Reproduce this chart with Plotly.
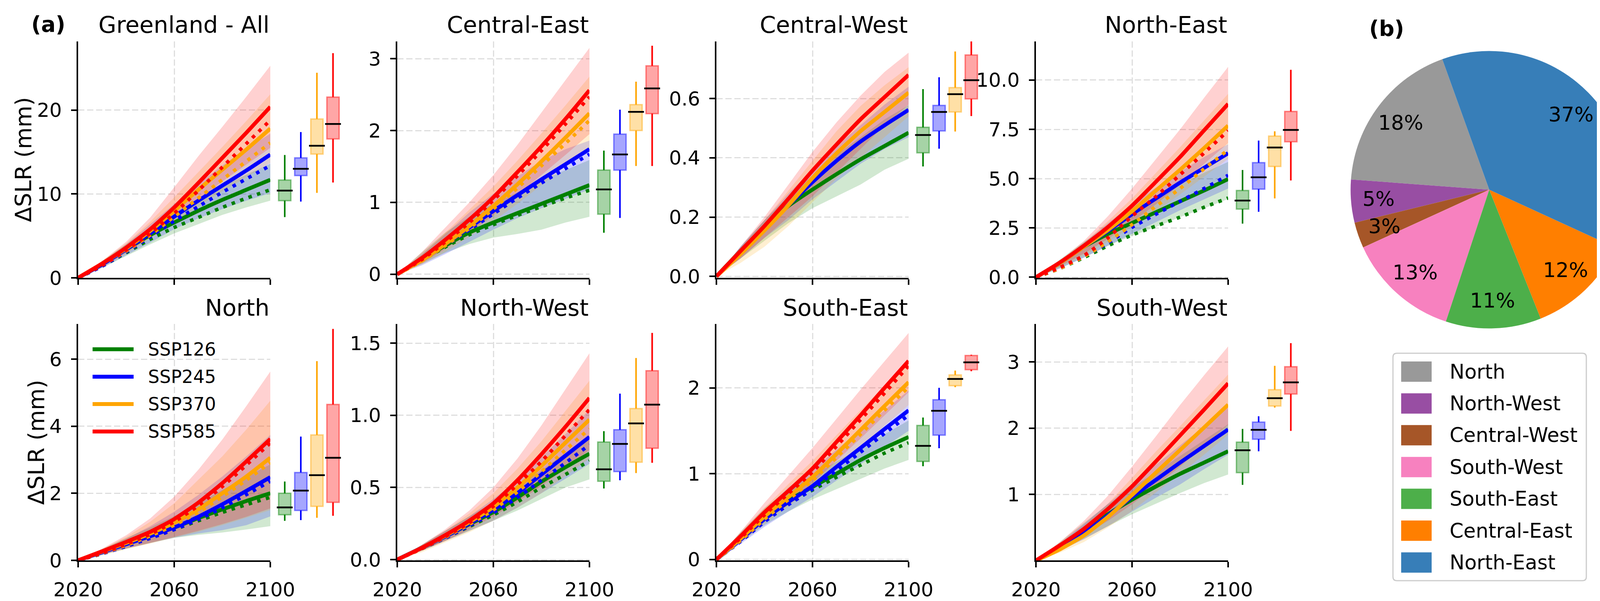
import math
import plotly.graph_objects as go

FIG_W, FIG_H = 4205, 1538
PAGE_OFFSET = 8  # the browser body margin shifts the figure by this many pixels
FONT = "DejaVu Sans"

# ---------------- data ----------------
years = [2020, 2030, 2040, 2050, 2060, 2070, 2080, 2090, 2100]
ssp_labels = ["SSP126", "SSP245", "SSP370", "SSP585"]
ssp_rgb = [(0, 128, 0), (0, 0, 255), (255, 165, 0), (255, 0, 0)]
panel_titles = ["Greenland - All", "Central-East", "Central-West", "North-East",
                "North", "North-West", "South-East", "South-West"]
box_positions = [2106.0, 2112.7, 2119.4, 2126.1]

# order inside each list: SSP126, SSP245, SSP370, SSP585
gl_solid = [[0, 1.6, 3.4, 5.1, 6.6, 8.0, 9.3, 10.5, 11.7],
            [0, 1.6, 3.4, 5.3, 7.3, 9.2, 11.0, 12.8, 14.7],
            [0, 1.7, 3.5, 5.6, 8.0, 10.5, 12.9, 15.3, 17.8],
            [0, 1.7, 3.6, 5.8, 8.4, 11.3, 14.3, 17.3, 20.4]]
gl_dotted = [[0, 1.4, 3.0, 4.6, 6.0, 7.2, 8.4, 9.5, 10.5],
             [0, 1.4, 3.1, 4.9, 6.8, 8.5, 10.2, 11.8, 13.4],
             [0, 1.5, 3.2, 5.1, 7.3, 9.5, 11.7, 13.9, 16.1],
             [0, 1.5, 3.3, 5.3, 7.7, 10.4, 13.2, 16.0, 18.8]]
gl_lo = [[0, 1.2, 2.6, 4.0, 5.3, 6.4, 7.5, 8.4, 9.2],
         [0, 1.2, 2.7, 4.2, 5.8, 7.1, 8.2, 9.2, 10.1],
         [0, 1.3, 2.9, 4.7, 6.6, 8.5, 10.3, 12.0, 13.7],
         [0, 1.3, 3.0, 4.9, 7.0, 9.3, 11.5, 13.5, 15.5]]
gl_hi = [[0, 2.0, 4.0, 6.0, 7.8, 9.4, 10.9, 12.3, 13.6],
         [0, 1.9, 4.0, 6.4, 8.8, 11.2, 13.4, 15.4, 17.2],
         [0, 2.0, 4.1, 6.7, 9.6, 12.6, 15.6, 18.7, 21.9],
         [0, 2.0, 4.3, 7.2, 10.8, 14.5, 18.0, 21.6, 25.3]]
# box stats: lower whisker, q1, median, q3, upper whisker
gl_box = [[7.25, 9.21, 10.41, 11.66, 14.65],
          [9.1, 12.2, 13.0, 14.31, 17.39],
          [10.14, 14.76, 15.76, 18.95, 24.46],
          [11.37, 16.57, 18.35, 21.56, 26.8]]

ce_solid = [[0, 0.2, 0.4, 0.58, 0.72, 0.85, 0.98, 1.11, 1.24],
            [0, 0.2, 0.42, 0.65, 0.88, 1.1, 1.32, 1.53, 1.74],
            [0, 0.19, 0.42, 0.67, 0.95, 1.25, 1.57, 1.9, 2.24],
            [0, 0.22, 0.48, 0.76, 1.07, 1.42, 1.78, 2.16, 2.56]]
ce_dotted = [[0, 0.19, 0.38, 0.55, 0.69, 0.82, 0.94, 1.06, 1.17],
             [0, 0.19, 0.4, 0.62, 0.84, 1.06, 1.27, 1.47, 1.67],
             [0, 0.18, 0.4, 0.64, 0.91, 1.2, 1.51, 1.82, 2.14],
             [0, 0.2, 0.45, 0.72, 1.03, 1.37, 1.72, 2.09, 2.47]]
ce_lo = [[0, 0.14, 0.3, 0.42, 0.51, 0.56, 0.62, 0.72, 0.8],
         [0, 0.12, 0.28, 0.45, 0.62, 0.78, 0.92, 1.05, 1.18],
         [0, 0.13, 0.31, 0.52, 0.74, 0.98, 1.24, 1.5, 1.76],
         [0, 0.15, 0.35, 0.58, 0.82, 1.1, 1.38, 1.66, 1.95]]
ce_hi = [[0, 0.3, 0.58, 0.8, 0.98, 1.14, 1.3, 1.45, 1.59],
         [0, 0.27, 0.56, 0.86, 1.12, 1.36, 1.58, 1.74, 1.86],
         [0, 0.27, 0.58, 0.9, 1.22, 1.58, 1.96, 2.35, 2.75],
         [0, 0.3, 0.65, 1.0, 1.38, 1.8, 2.25, 2.7, 3.15]]
ce_box = [[0.578, 0.836, 1.18, 1.45, 1.72],
          [0.784, 1.45, 1.667, 1.95, 2.29],
          [1.507, 2.0, 2.26, 2.36, 2.68],
          [1.507, 2.235, 2.586, 2.9, 3.18]]

cw_solid = [[0, 0.085, 0.165, 0.238, 0.293, 0.345, 0.395, 0.44, 0.485],
            [0, 0.08, 0.16, 0.24, 0.318, 0.39, 0.455, 0.51, 0.562],
            [0, 0.075, 0.155, 0.24, 0.332, 0.415, 0.49, 0.555, 0.62],
            [0, 0.085, 0.17, 0.262, 0.357, 0.445, 0.53, 0.605, 0.68]]
cw_dotted = None
cw_lo = [[0, 0.06, 0.12, 0.18, 0.23, 0.27, 0.31, 0.36, 0.397],
         [0, 0.06, 0.13, 0.19, 0.26, 0.32, 0.38, 0.43, 0.47],
         [0, 0.045, 0.1, 0.17, 0.25, 0.33, 0.4, 0.47, 0.54],
         [0, 0.06, 0.13, 0.2, 0.27, 0.35, 0.43, 0.51, 0.58]]
cw_hi = [[0, 0.1, 0.19, 0.27, 0.34, 0.41, 0.47, 0.53, 0.578],
         [0, 0.1, 0.19, 0.28, 0.36, 0.44, 0.51, 0.58, 0.64],
         [0, 0.095, 0.19, 0.29, 0.39, 0.49, 0.575, 0.645, 0.706],
         [0, 0.1, 0.2, 0.31, 0.42, 0.52, 0.61, 0.69, 0.755]]
cw_box = [[0.371, 0.417, 0.477, 0.503, 0.632],
          [0.431, 0.491, 0.555, 0.577, 0.672],
          [0.489, 0.555, 0.615, 0.637, 0.759],
          [0.541, 0.599, 0.662, 0.747, 0.80]]

ne_solid = [[0, 0.74, 1.55, 2.2, 2.75, 3.3, 3.85, 4.4, 4.98],
            [0, 0.72, 1.55, 2.35, 3.2, 4.0, 4.8, 5.55, 6.29],
            [0, 0.72, 1.55, 2.4, 3.35, 4.4, 5.45, 6.55, 7.69],
            [0, 0.75, 1.6, 2.55, 3.63, 4.85, 6.1, 7.45, 8.79]]
ne_dotted = [[0, 0.45, 1.0, 1.6, 2.14, 2.6, 3.05, 3.55, 4.02],
             [0, 0.45, 1.05, 1.75, 2.53, 3.2, 3.85, 4.5, 5.17],
             [0, 0.45, 1.05, 1.8, 2.67, 3.6, 4.5, 5.5, 6.46],
             [0, 0.5, 1.1, 2.0, 3.1, 4.1, 5.2, 6.3, 7.43]]
ne_lo = [[0, 0.45, 1.0, 1.6, 2.1, 2.55, 3.05, 3.5, 3.97],
         [0, 0.45, 1.0, 1.6, 2.2, 2.8, 3.4, 3.95, 4.5],
         [0, 0.5, 1.1, 1.8, 2.55, 3.35, 4.2, 5.1, 6.0],
         [0, 0.55, 1.2, 1.95, 2.8, 3.7, 4.7, 5.75, 6.8]]
ne_hi = [[0, 0.9, 1.8, 2.6, 3.3, 4.0, 4.7, 5.3, 5.85],
         [0, 0.82, 1.75, 2.75, 3.7, 4.55, 5.35, 6.1, 6.75],
         [0, 0.82, 1.75, 2.85, 4.0, 5.3, 6.6, 7.95, 9.3],
         [0, 0.85, 1.85, 3.1, 4.5, 6.0, 7.5, 9.1, 10.67]]
ne_box = [[2.72, 3.46, 3.89, 4.40, 5.44],
          [3.32, 4.47, 5.07, 5.81, 6.93],
          [4.0, 5.62, 6.58, 7.16, 7.40],
          [4.91, 6.87, 7.47, 8.41, 10.52]]

n_solid = [[0, 0.25, 0.5, 0.74, 0.98, 1.26, 1.52, 1.77, 2.0],
           [0, 0.24, 0.48, 0.72, 0.98, 1.3, 1.67, 2.07, 2.48],
           [0, 0.26, 0.52, 0.8, 1.12, 1.52, 2.0, 2.5, 3.06],
           [0, 0.27, 0.55, 0.85, 1.23, 1.72, 2.3, 2.95, 3.62]]
n_dotted = [[0, 0.2, 0.44, 0.68, 0.92, 1.18, 1.43, 1.66, 1.88],
            [0, 0.2, 0.42, 0.66, 0.92, 1.22, 1.57, 1.96, 2.36],
            [0, 0.21, 0.45, 0.73, 1.05, 1.43, 1.9, 2.39, 2.92],
            [0, 0.22, 0.48, 0.78, 1.15, 1.63, 2.2, 2.84, 3.5]]
n_lo = [[0, 0.17, 0.35, 0.52, 0.67, 0.76, 0.83, 0.92, 1.02],
        [0, 0.17, 0.35, 0.52, 0.68, 0.8, 0.9, 1.05, 1.31],
        [0, 0.15, 0.33, 0.5, 0.68, 0.85, 1.05, 1.27, 1.5],
        [0, 0.18, 0.36, 0.52, 0.7, 0.88, 1.08, 1.3, 1.55]]
n_hi = [[0, 0.34, 0.66, 0.98, 1.32, 1.7, 2.1, 2.5, 2.86],
        [0, 0.32, 0.65, 1.02, 1.45, 1.95, 2.5, 3.1, 3.74],
        [0, 0.33, 0.7, 1.15, 1.7, 2.4, 3.1, 3.9, 4.76],
        [0, 0.35, 0.75, 1.25, 1.9, 2.7, 3.6, 4.6, 5.63]]
n_box = [[1.18, 1.36, 1.58, 2.0, 2.35],
         [1.2, 1.49, 2.08, 2.62, 3.69],
         [1.27, 1.61, 2.54, 3.74, 5.94],
         [1.33, 1.73, 3.06, 4.65, 6.9]]

nw_solid = [[0, 0.08, 0.16, 0.245, 0.33, 0.43, 0.54, 0.64, 0.734],
            [0, 0.08, 0.16, 0.25, 0.345, 0.46, 0.59, 0.72, 0.85],
            [0, 0.08, 0.165, 0.26, 0.365, 0.5, 0.65, 0.81, 0.97],
            [0, 0.08, 0.17, 0.27, 0.39, 0.55, 0.73, 0.92, 1.12]]
nw_dotted = [[0, 0.075, 0.15, 0.23, 0.31, 0.40, 0.50, 0.59, 0.684],
             [0, 0.075, 0.15, 0.235, 0.325, 0.43, 0.55, 0.67, 0.796],
             [0, 0.075, 0.155, 0.245, 0.345, 0.47, 0.61, 0.76, 0.906],
             [0, 0.075, 0.16, 0.255, 0.37, 0.52, 0.68, 0.86, 1.04]]
nw_lo = [[0, 0.06, 0.13, 0.2, 0.27, 0.34, 0.42, 0.5, 0.556],
         [0, 0.06, 0.13, 0.2, 0.27, 0.36, 0.46, 0.56, 0.664],
         [0, 0.05, 0.12, 0.19, 0.27, 0.36, 0.46, 0.58, 0.7],
         [0, 0.06, 0.13, 0.21, 0.3, 0.4, 0.51, 0.63, 0.76]]
nw_hi = [[0, 0.1, 0.2, 0.3, 0.4, 0.51, 0.62, 0.74, 0.85],
         [0, 0.1, 0.2, 0.3, 0.42, 0.55, 0.71, 0.87, 1.04],
         [0, 0.1, 0.2, 0.32, 0.46, 0.63, 0.82, 1.03, 1.24],
         [0, 0.1, 0.21, 0.34, 0.5, 0.7, 0.93, 1.18, 1.43]]
nw_box = [[0.493, 0.543, 0.626, 0.815, 0.89],
          [0.55, 0.61, 0.802, 0.9, 1.15],
          [0.6, 0.675, 0.944, 1.047, 1.397],
          [0.671, 0.772, 1.074, 1.309, 1.571]]

se_solid = [[0, 0.25, 0.5, 0.69, 0.845, 1.0, 1.16, 1.3, 1.428],
            [0, 0.23, 0.47, 0.67, 0.856, 1.08, 1.3, 1.52, 1.738],
            [0, 0.24, 0.5, 0.73, 0.96, 1.23, 1.51, 1.79, 2.066],
            [0, 0.27, 0.55, 0.8, 1.06, 1.37, 1.68, 2.0, 2.314]]
se_dotted = [[0, 0.23, 0.47, 0.66, 0.81, 0.96, 1.1, 1.24, 1.36],
             [0, 0.21, 0.44, 0.64, 0.82, 1.04, 1.25, 1.47, 1.681],
             [0, 0.22, 0.47, 0.7, 0.92, 1.19, 1.46, 1.74, 2.009],
             [0, 0.25, 0.52, 0.77, 1.02, 1.32, 1.63, 1.94, 2.257]]
se_lo = [[0, 0.2, 0.4, 0.56, 0.7, 0.82, 0.94, 1.06, 1.16],
         [0, 0.18, 0.38, 0.56, 0.73, 0.92, 1.11, 1.31, 1.5],
         [0, 0.2, 0.42, 0.62, 0.83, 1.07, 1.31, 1.56, 1.8],
         [0, 0.22, 0.45, 0.67, 0.89, 1.15, 1.41, 1.68, 1.95]]
se_hi = [[0, 0.32, 0.6, 0.82, 0.98, 1.14, 1.3, 1.46, 1.62],
         [0, 0.3, 0.58, 0.84, 1.05, 1.28, 1.51, 1.74, 1.97],
         [0, 0.3, 0.6, 0.88, 1.15, 1.45, 1.74, 2.03, 2.32],
         [0, 0.32, 0.66, 0.98, 1.3, 1.64, 1.98, 2.31, 2.64]]
se_box = [[1.087, 1.143, 1.324, 1.562, 1.654],
          [1.297, 1.449, 1.733, 1.862, 2.0],
          [2.009, 2.025, 2.104, 2.151, 2.201],
          [2.194, 2.212, 2.298, 2.377, 2.386]]

sw_solid = [[0, 0.22, 0.45, 0.7, 0.92, 1.12, 1.31, 1.48, 1.651],
            [0, 0.2, 0.42, 0.68, 0.96, 1.22, 1.48, 1.73, 1.98],
            [0, 0.17, 0.38, 0.66, 0.99, 1.33, 1.67, 2.01, 2.355],
            [0, 0.23, 0.48, 0.78, 1.12, 1.5, 1.89, 2.28, 2.677]]
sw_dotted = None
sw_lo = [[0, 0.15, 0.33, 0.52, 0.7, 0.86, 1.02, 1.17, 1.3],
         [0, 0.15, 0.32, 0.52, 0.74, 0.95, 1.15, 1.38, 1.6],
         [0, 0.12, 0.28, 0.5, 0.75, 1.03, 1.31, 1.6, 1.9],
         [0, 0.18, 0.38, 0.6, 0.85, 1.13, 1.42, 1.73, 2.05]]
sw_hi = [[0, 0.28, 0.57, 0.85, 1.1, 1.34, 1.58, 1.82, 2.06],
         [0, 0.26, 0.55, 0.86, 1.16, 1.45, 1.74, 2.03, 2.31],
         [0, 0.24, 0.52, 0.86, 1.25, 1.65, 2.03, 2.42, 2.81],
         [0, 0.28, 0.6, 0.98, 1.42, 1.88, 2.35, 2.8, 3.235]]
sw_box = [[1.144, 1.328, 1.666, 1.789, 1.988],
          [1.651, 1.833, 1.974, 2.091, 2.179],
          [2.311, 2.334, 2.452, 2.581, 2.941],
          [1.959, 2.516, 2.692, 2.927, 3.284]]

y_ranges = [[0, 28.2], [-0.05, 3.24], [-0.005, 0.793], [-0.03, 11.96],
            [0, 7.05], [-0.005, 1.633], [-0.01, 2.745], [0.003, 3.574]]
y_tickvals = [[0, 10, 20], [0, 1, 2, 3], [0, 0.2, 0.4, 0.6], [0, 2.5, 5, 7.5, 10],
              [0, 2, 4, 6], [0, 0.5, 1, 1.5], [0, 1, 2], [1, 2, 3]]
y_ticktext = [["0", "10", "20"], ["0", "1", "2", "3"], ["0.0", "0.2", "0.4", "0.6"],
              ["0.0", "2.5", "5.0", "7.5", "10.0"], ["0", "2", "4", "6"],
              ["0.0", "0.5", "1.0", "1.5"], ["0", "1", "2"], ["1", "2", "3"]]
x_tickvals = [2020, 2060, 2100]
y_label = "\u0394SLR (mm)"

pie_labels = ["North", "North-West", "Central-West", "South-West",
              "South-East", "Central-East", "North-East"]
pie_share = [18.3, 5.0, 3.0, 13.1, 11.1, 12.1, 37.3]
pie_colors = ["#999999", "#984ea3", "#a65628", "#f781bf", "#4daf4a", "#ff7f00", "#377eb8"]

panels = [
    (gl_solid, gl_dotted, gl_lo, gl_hi, gl_box),
    (ce_solid, ce_dotted, ce_lo, ce_hi, ce_box),
    (cw_solid, cw_dotted, cw_lo, cw_hi, cw_box),
    (ne_solid, ne_dotted, ne_lo, ne_hi, ne_box),
    (n_solid, n_dotted, n_lo, n_hi, n_box),
    (nw_solid, nw_dotted, nw_lo, nw_hi, nw_box),
    (se_solid, se_dotted, se_lo, se_hi, se_box),
    (sw_solid, sw_dotted, sw_lo, sw_hi, sw_box),
]

# ---------------- layout geometry (pixels of the final picture) ----------------
col_x0 = [200, 1017, 1834, 2652]
line_w = 492
box_w = 197
row_y = [(106, 711), (829, 1434)]
title_mid_y = [63, 787]
ylabel_pos = [(59, 408.5), (93, 1132)]


def fx(p):
    return (p - PAGE_OFFSET) / FIG_W


def fy(p):
    return 1 - (p - PAGE_OFFSET) / FIG_H


def rgba(rgb, a):
    return "rgba(%d,%d,%d,%.3f)" % (rgb[0], rgb[1], rgb[2], a)


fig = go.Figure()
layout = dict(
    template="none",
    width=FIG_W, height=FIG_H, autosize=False,
    margin=dict(l=0, r=0, t=0, b=0, pad=0, autoexpand=False),
    paper_bgcolor="white", plot_bgcolor="white",
    showlegend=False,
    font=dict(family=FONT, color="black", size=50),
)
annotations = []
shapes = []

for i, (solid, dotted, lo, hi, box) in enumerate(panels):
    k = i + 1
    kb = i + 9
    r, c = divmod(i, 4)
    x0 = col_x0[c]
    ytop, ybot = row_y[r]
    xn = "x" if k == 1 else "x%d" % k
    yn = "y" if k == 1 else "y%d" % k
    xbn = "x%d" % kb
    ybn = "y%d" % kb

    # uncertainty bands
    for s in range(4):
        fig.add_trace(go.Scatter(
            x=years + years[::-1], y=hi[s] + lo[s][::-1],
            fill="toself", fillcolor=rgba(ssp_rgb[s], 0.18),
            line=dict(width=0), mode="lines", hoverinfo="skip",
            xaxis=xn, yaxis=yn))
    # projection lines
    for s in range(4):
        fig.add_trace(go.Scatter(
            x=years, y=solid[s], mode="lines", name=ssp_labels[s],
            line=dict(color=rgba(ssp_rgb[s], 1), width=10, shape="spline", smoothing=0.6),
            xaxis=xn, yaxis=yn))
        if dotted is not None:
            fig.add_trace(go.Scatter(
                x=years, y=dotted[s], mode="lines",
                line=dict(color=rgba(ssp_rgb[s], 1), width=9, dash="9px,14px",
                          shape="spline", smoothing=0.6),
                xaxis=xn, yaxis=yn))
    # 2100 box plots
    for s in range(4):
        lf, q1, med, q3, uf = box[s]
        p = box_positions[s]
        fig.add_trace(go.Box(
            x=[p], q1=[q1], median=[med], q3=[q3], lowerfence=[lf], upperfence=[uf],
            width=5.1, orientation="v", boxpoints=False, whiskerwidth=0,
            fillcolor=rgba(ssp_rgb[s], 0.35),
            line=dict(color=rgba(ssp_rgb[s], 0.45), width=3.5),
            xaxis=xbn, yaxis=ybn))
        fig.add_trace(go.Scatter(
            x=[p, p, None, p, p], y=[lf, q1, None, q3, uf], mode="lines",
            line=dict(color=rgba(ssp_rgb[s], 1), width=4),
            xaxis=xbn, yaxis=ybn))
        fig.add_trace(go.Scatter(
            x=[p], y=[med], mode="markers",
            marker=dict(symbol="line-ew", size=29, line=dict(color="black", width=4.5)),
            xaxis=xbn, yaxis=ybn))

    common_axis = dict(showline=True, linecolor="black", linewidth=3.5,
                       ticks="outside", ticklen=14, tickwidth=3.5, tickcolor="black",
                       showgrid=True, gridcolor="#dedede", gridwidth=2.5, griddash="16px,7px",
                       zeroline=False, ticklabelstandoff=14, automargin=False,
                       tickfont=dict(family=FONT, size=50, color="black"))
    layout["xaxis" if k == 1 else "xaxis%d" % k] = dict(
        common_axis, domain=[fx(x0), fx(x0 + line_w)], range=[2020, 2100],
        anchor=yn, tickvals=x_tickvals, ticktext=[str(v) for v in x_tickvals],
        showticklabels=(r == 1))
    layout["yaxis" if k == 1 else "yaxis%d" % k] = dict(
        common_axis, domain=[fy(ybot), fy(ytop)], range=y_ranges[i],
        anchor=xn, tickvals=y_tickvals[i], ticktext=y_ticktext[i])
    layout["xaxis%d" % kb] = dict(domain=[fx(x0 + line_w), fx(x0 + line_w + box_w)],
                                  range=[2100, 2100 + box_w * 80.0 / line_w],
                                  visible=False, anchor=ybn, showgrid=False, zeroline=False,
                                  automargin=False)
    layout["yaxis%d" % kb] = dict(domain=[fy(ybot), fy(ytop)], range=y_ranges[i],
                                  visible=False, anchor=xbn, showgrid=False, zeroline=False,
                                  automargin=False)

    annotations.append(dict(
        text=panel_titles[i], xref="paper", yref="paper",
        x=fx(x0 + line_w), y=fy(title_mid_y[r]), xanchor="right", yanchor="middle",
        showarrow=False, font=dict(family=FONT, size=59, color="black")))

# y-axis labels of the first column
for (lx, ly) in ylabel_pos:
    annotations.append(dict(text=y_label, xref="paper", yref="paper", x=fx(lx), y=fy(ly),
                            xanchor="center", yanchor="middle", textangle=-90, showarrow=False,
                            font=dict(family=FONT, size=57, color="black")))

# panel labels
annotations.append(dict(text="<b>(a)</b>", xref="paper", yref="paper", x=fx(123), y=fy(62),
                        xanchor="center", yanchor="middle", showarrow=False,
                        font=dict(family=FONT, size=55, color="black")))
annotations.append(dict(text="<b>(b)</b>", xref="paper", yref="paper", x=fx(3550), y=fy(73),
                        xanchor="center", yanchor="middle", showarrow=False,
                        font=dict(family=FONT, size=55, color="black")))

# SSP legend (inside North panel)
for s in range(4):
    yc = 893.7 + s * 70.2
    shapes.append(dict(type="line", xref="paper", yref="paper",
                       x0=fx(237), x1=fx(342), y0=fy(yc), y1=fy(yc),
                       line=dict(color=rgba(ssp_rgb[s], 1), width=10)))
    annotations.append(dict(text=ssp_labels[s], xref="paper", yref="paper",
                            x=fx(377), y=fy(yc), xanchor="left", yanchor="middle",
                            showarrow=False, font=dict(family=FONT, size=46, color="black")))

# pie (first slice starts at start_deg and runs counterclockwise)
pie_cx, pie_cy, pie_r = 3812.5, 485.5, 355
start_deg = 109.8
total = sum(pie_share)
first_end = start_deg + 360.0 * pie_share[0] / total
fig.add_trace(go.Pie(
    labels=pie_labels, values=pie_share, sort=False, direction="counterclockwise",
    rotation=-(first_end - 90.0), marker=dict(colors=pie_colors, line=dict(width=0)),
    textinfo="none", hoverinfo="label+percent", showlegend=False,
    domain=dict(x=[fx(pie_cx - pie_r), fx(pie_cx + pie_r)],
                y=[fy(pie_cy + pie_r), fy(pie_cy - pie_r)])))
cum = 0.0
for lab, v in zip(pie_labels, pie_share):
    mid = math.radians(start_deg + 360.0 * (cum + v / 2.0) / total)
    cum += v
    px_ = pie_cx + 0.8 * pie_r * math.cos(mid)
    py_ = pie_cy - 0.8 * pie_r * math.sin(mid)
    annotations.append(dict(text="%d%%" % round(100.0 * v / total), xref="paper", yref="paper",
                            x=fx(px_), y=fy(py_), xanchor="center", yanchor="middle",
                            showarrow=False, font=dict(family=FONT, size=52, color="black")))

# pie legend
lx0, lx1, ly0, ly1, rad = 3566, 4061, 904, 1486, 10
pts = ("M {a},{b} L {c},{b} Q {d},{b} {d},{e} L {d},{f} Q {d},{g} {c},{g} "
       "L {a},{g} Q {h},{g} {h},{f} L {h},{e} Q {h},{b} {a},{b} Z").format(
    a=fx(lx0 + rad), b=fy(ly0), c=fx(lx1 - rad), d=fx(lx1), e=fy(ly0 + rad),
    f=fy(ly1 - rad), g=fy(ly1), h=fx(lx0))
shapes.append(dict(type="path", xref="paper", yref="paper", path=pts,
                   line=dict(color="#cccccc", width=3), fillcolor="rgba(255,255,255,0.8)"))
for j, (lab, colr) in enumerate(zip(pie_labels, pie_colors)):
    yc = 951 + j * 81.4
    shapes.append(dict(type="rect", xref="paper", yref="paper",
                       x0=fx(3587), x1=fx(3665), y0=fy(yc + 26), y1=fy(yc - 26),
                       fillcolor=colr, line=dict(width=0)))
    annotations.append(dict(text=lab, xref="paper", yref="paper", x=fx(3709), y=fy(yc),
                            xanchor="left", yanchor="middle", showarrow=False,
                            font=dict(family=FONT, size=51, color="black")))

layout["annotations"] = annotations
layout["shapes"] = shapes
fig.update_layout(**layout)
fig.write_html("out.html")
